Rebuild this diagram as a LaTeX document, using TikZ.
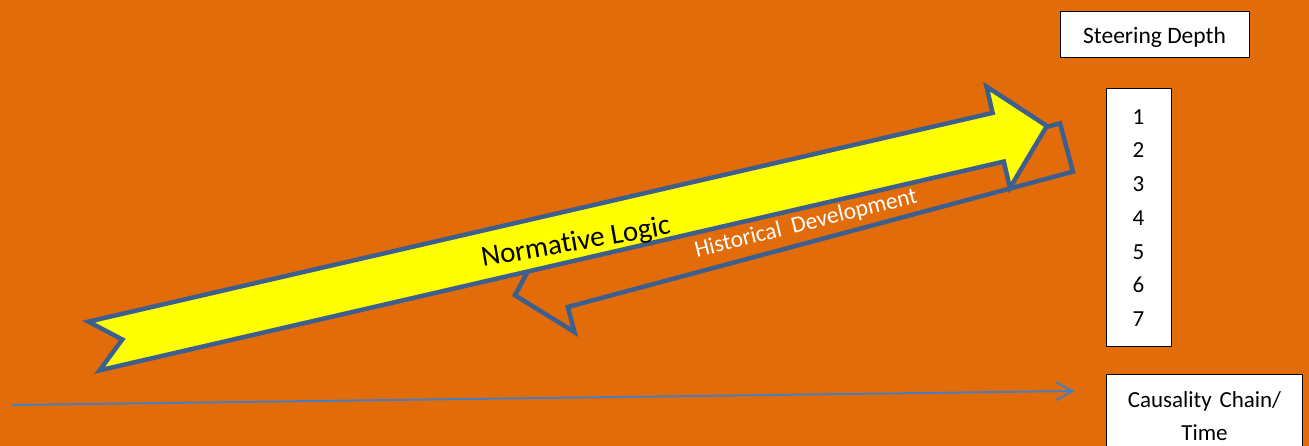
\documentclass[tikz,border=0pt]{standalone}
\usepackage{fontspec}
\setmainfont{Carlito}[Ligatures=NoCommon]
\usetikzlibrary{arrows.meta}
\definecolor{bgorange}{HTML}{E36C0A}
\definecolor{edgeblue}{HTML}{3C5F8D}
\definecolor{lineblue}{HTML}{4A7EBB}
\definecolor{arrowyellow}{HTML}{FFFF00}

\begin{document}
\begin{tikzpicture}[
    x=1pt, y=1pt,
    labelbox/.style={rectangle, draw=black, fill=white, line width=1pt, font=\fontsize{23.5}{28}\selectfont},
    blockarrow/.style={draw=edgeblue, line width=4.5pt, line join=miter},
    timeline/.style={draw=lineblue, line width=2pt, -{Straight Barb[length=17pt,width=18pt,line width=2pt]}}
  ]
    \useasboundingbox (0,0) rectangle (1309,446);
    \fill[bgorange] (0,0) rectangle (1309,446);
    % historical development, lies behind
    \begin{scope}[shift={(1066.5,298.5)}, rotate=195]
      \draw[blockarrow, fill=bgorange] (0,-25) -- (523,-25) -- (523,-51) -- (571,0) -- (523,51) -- (523,25) -- (0,25) -- cycle;
    \end{scope}
    % normative logic
    \begin{scope}[shift={(94,100)}, rotate=13]
      \draw[blockarrow, fill=arrowyellow] (0,25) -- (29,0) -- (0,-25) -- (928,-25) -- (928,-52) -- (978,0) -- (928,52) -- (928,25) -- cycle;
    \end{scope}
    \node[rotate=10, font=\fontsize{29}{34}\selectfont] (normlabel) at (576,203) {Normative Logic};
    \node[rotate=14, text=white, font=\fontsize{23.5}{28}\selectfont] (histlabel) at (806,222) {Historical\ \ Development};
    \node[labelbox, minimum width=189, minimum height=46, text depth=0pt] (depth) at (1154.5,411) {Steering Depth};
    \node[labelbox, minimum width=65, minimum height=258, align=center, font=\fontsize{23}{33.7}\selectfont] (levels) at (1138.5,228) {1\\2\\3\\4\\5\\6\\7};
    \node[labelbox, anchor=north, text width=190, inner ysep=17pt, align=center, font=\fontsize{23}{33}\selectfont] (causal) at (1204.5,72) {Causality Chain/\\Time};
    \coordinate (tstart) at (12,41);
    \coordinate (tend) at (1075,55);
    \draw[timeline] (tstart) -- (tend);
\end{tikzpicture}
\end{document}
